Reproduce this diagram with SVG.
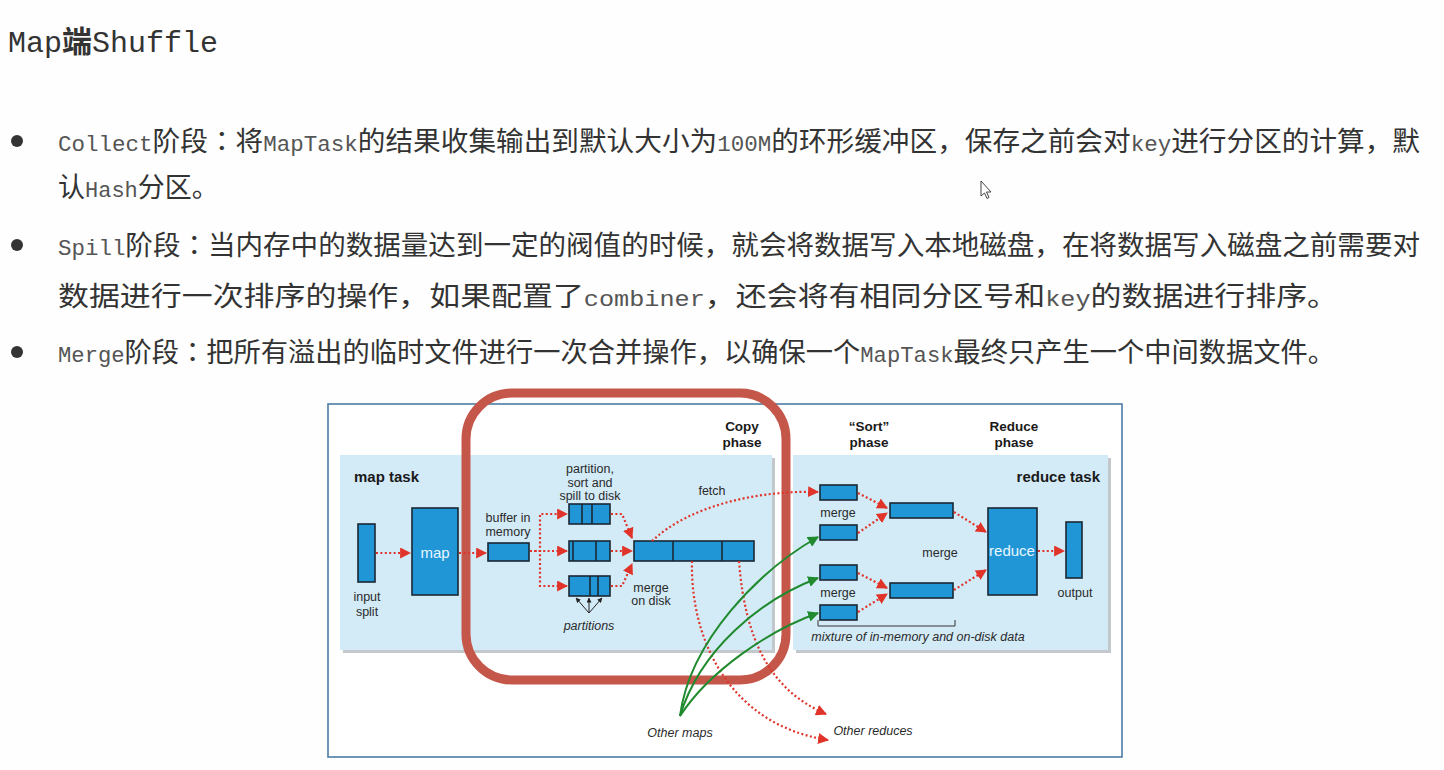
<svg xmlns="http://www.w3.org/2000/svg" width="1444" height="770" viewBox="0 0 1444 770">
<defs>
<style>
.cjk{font-family:"Noto Sans CJK SC","Noto Sans",sans-serif;fill:#333;}
.col{font-family:"Noto Sans CJK JP","Noto Sans CJK SC",sans-serif;fill:#333;}
.lat{font-family:"Liberation Mono",monospace;fill:#555;}
.lbl{font-family:"Liberation Sans",Arial,sans-serif;font-size:12.5px;fill:#2a2a2a;}
.it{font-style:italic;}
.bold{font-weight:bold;font-size:15px;fill:#1a1a1a;}
.hd{font-weight:bold;font-size:13.5px;fill:#1a1a1a;}
.box{fill:#2196d6;stroke:#1b2733;stroke-width:1.6;}
.div{stroke:#1b2733;stroke-width:1.6;}
.panel{fill:#d3eaf7;}
.shadow{fill:#9aa3a8;opacity:0.6;}
.rd{fill:none;stroke:#e0342a;stroke-width:2.2;stroke-dasharray:2 2.4;}
.gr{fill:none;stroke:#1f8a2e;stroke-width:2;}
.wt{font-family:"Liberation Sans",Arial,sans-serif;font-size:15px;fill:#e8f6ff;}
.thin{fill:none;stroke:#222;stroke-width:1;}
</style>
<marker id="ar" viewBox="0 0 10 10" refX="9" refY="5" markerWidth="11" markerHeight="11" markerUnits="userSpaceOnUse" orient="auto">
<path d="M0 0 L10 5 L0 10 Z" fill="#e0342a"/>
</marker>
<marker id="ag" viewBox="0 0 10 10" refX="9" refY="5" markerWidth="11" markerHeight="11" markerUnits="userSpaceOnUse" orient="auto">
<path d="M0 0 L10 5 L0 10 Z" fill="#1f8a2e"/>
</marker>
<marker id="ab" viewBox="0 0 10 10" refX="9" refY="5" markerWidth="5" markerHeight="5" markerUnits="userSpaceOnUse" orient="auto">
<path d="M0 0 L10 5 L0 10 Z" fill="#222"/>
</marker>
</defs>
<rect width="1444" height="770" fill="#fdfefd"/>

<g id="title">
<text x="8" y="52" font-size="30"><tspan class="lat" style="fill:#333">Map</tspan><tspan class="cjk" font-weight="bold">端</tspan><tspan class="lat" style="fill:#333">Shuffle</tspan></text>
</g>

<g id="bullets">
<circle cx="17" cy="141" r="6" fill="#333"/>
<circle cx="17" cy="245" r="6" fill="#333"/>
<circle cx="17" cy="352" r="6" fill="#333"/>
<text x="58" y="151" font-size="27" textLength="1362" lengthAdjust="spacingAndGlyphs"><tspan class="lat" font-size="22">Collect</tspan><tspan class="cjk">阶段</tspan><tspan class="col">：</tspan><tspan class="cjk">将</tspan><tspan class="lat" font-size="22">MapTask</tspan><tspan class="cjk">的结果收集输出到默认大小为</tspan><tspan class="lat" font-size="22">100M</tspan><tspan class="cjk">的环形缓冲区，保存之前会对</tspan><tspan class="lat" font-size="22">key</tspan><tspan class="cjk">进行分区的计算，默</tspan></text>
<text x="58" y="197" font-size="27"><tspan class="cjk">认</tspan><tspan class="lat" font-size="22">Hash</tspan><tspan class="cjk">分区。</tspan></text>
<text x="58" y="255" font-size="27" textLength="1362" lengthAdjust="spacingAndGlyphs"><tspan class="lat" font-size="22">Spill</tspan><tspan class="cjk">阶段</tspan><tspan class="col">：</tspan><tspan class="cjk">当内存中的数据量达到一定的阀值的时候，就会将数据写入本地磁盘，在将数据写入磁盘之前需要对</tspan></text>
<text x="58" y="306" font-size="27" textLength="1280" lengthAdjust="spacingAndGlyphs"><tspan class="cjk">数据进行一次排序的操作，如果配置了</tspan><tspan class="lat" font-size="22">combiner</tspan><tspan class="cjk">，还会将有相同分区号和</tspan><tspan class="lat" font-size="22">key</tspan><tspan class="cjk">的数据进行排序。</tspan></text>
<text x="58" y="362" font-size="27" textLength="1277" lengthAdjust="spacingAndGlyphs"><tspan class="lat" font-size="22">Merge</tspan><tspan class="cjk">阶段</tspan><tspan class="col">：</tspan><tspan class="cjk">把所有溢出的临时文件进行一次合并操作，以确保一个</tspan><tspan class="lat" font-size="22">MapTask</tspan><tspan class="cjk">最终只产生一个中间数据文件。</tspan></text>
<path d="M981 181 L981 196 L984.5 193 L987 198.5 L989 197.5 L986.5 192 L991 192 Z" fill="#fff" stroke="#444" stroke-width="1"/>
</g>

<g id="frame">
<rect x="328" y="404" width="794" height="353" fill="#ffffff" stroke="#4d7ca6" stroke-width="1.6"/>
</g>

<g id="map-panel">
<rect class="shadow" x="343" y="458" width="432" height="195"/>
<rect class="panel" x="340" y="455" width="432" height="195"/>
<text class="lbl bold" x="354" y="482">map task</text>
</g>

<g id="reduce-panel">
<rect class="shadow" x="796" y="458" width="315" height="195"/>
<rect class="panel" x="793" y="455" width="315" height="195"/>
<text class="lbl bold" x="1100" y="482" text-anchor="end">reduce task</text>
</g>

<g id="phases">
<text class="lbl hd" x="742" y="431" text-anchor="middle">Copy</text>
<text class="lbl hd" x="742" y="447" text-anchor="middle">phase</text>
<text class="lbl hd" x="869" y="431" text-anchor="middle">“Sort”</text>
<text class="lbl hd" x="869" y="447" text-anchor="middle">phase</text>
<text class="lbl hd" x="1014" y="431" text-anchor="middle">Reduce</text>
<text class="lbl hd" x="1014" y="447" text-anchor="middle">phase</text>
</g>

<g id="input-split">
<rect class="box" x="358" y="524" width="17" height="58"/>
<text class="lbl" x="367" y="601" text-anchor="middle" font-size="14">input</text>
<text class="lbl" x="367" y="616" text-anchor="middle" font-size="14">split</text>
</g>

<g id="map">
<rect class="box" x="412" y="508" width="46" height="87"/>
<text class="wt" x="435" y="558" text-anchor="middle">map</text>
</g>

<g id="buffer">
<rect class="box" x="488" y="543" width="41" height="18"/>
<text class="lbl" x="508" y="522" text-anchor="middle">buffer in</text>
<text class="lbl" x="508" y="536" text-anchor="middle">memory</text>
</g>

<g id="spills">
<text class="lbl" x="590" y="473" text-anchor="middle">partition,</text>
<text class="lbl" x="590" y="486.5" text-anchor="middle">sort and</text>
<text class="lbl" x="590" y="500" text-anchor="middle">spill to disk</text>
<rect class="box" x="569" y="504" width="41" height="20"/>
<line class="div" x1="582" y1="504" x2="582" y2="524"/>
<line class="div" x1="592" y1="504" x2="592" y2="524"/>
<rect class="box" x="569" y="541" width="41" height="20"/>
<line class="div" x1="573" y1="541" x2="573" y2="561"/>
<line class="div" x1="596" y1="541" x2="596" y2="561"/>
<rect class="box" x="569" y="576" width="41" height="20"/>
<line class="div" x1="590" y1="576" x2="590" y2="596"/>
<line class="div" x1="598" y1="576" x2="598" y2="596"/>
<text class="lbl it" x="589" y="630" text-anchor="middle">partitions</text>
<path class="thin" d="M589 613 L576 598" marker-end="url(#ab)"/>
<path class="thin" d="M589 613 L589 598" marker-end="url(#ab)"/>
<path class="thin" d="M589 613 L602 598" marker-end="url(#ab)"/>
</g>

<g id="merged-file">
<rect class="box" x="634" y="541" width="120" height="20"/>
<line class="div" x1="673" y1="541" x2="673" y2="561"/>
<line class="div" x1="722" y1="541" x2="722" y2="561"/>
<text class="lbl" x="651" y="592" text-anchor="middle">merge</text>
<text class="lbl" x="651" y="605" text-anchor="middle">on disk</text>
<text class="lbl" x="712" y="495" text-anchor="middle">fetch</text>
</g>

<g id="highlight">
<rect x="466" y="393" width="320" height="287" rx="46" fill="none" stroke="#c5574a" stroke-width="9"/>
</g>

<g id="reduce-side">
<rect class="box" x="820" y="485" width="37" height="15"/>
<rect class="box" x="820" y="525" width="37" height="15"/>
<rect class="box" x="820" y="565" width="37" height="15"/>
<rect class="box" x="820" y="605" width="37" height="15"/>
<text class="lbl" x="838" y="517" text-anchor="middle">merge</text>
<text class="lbl" x="838" y="597" text-anchor="middle">merge</text>
<rect class="box" x="890" y="503" width="63" height="15"/>
<rect class="box" x="890" y="583" width="63" height="15"/>
<text class="lbl" x="940" y="557" text-anchor="middle">merge</text>
<path d="M818 620 V626 H955 V620" fill="none" stroke="#333" stroke-width="1"/>
<text class="lbl it" x="918" y="641" text-anchor="middle">mixture of in-memory and on-disk data</text>
</g>

<g id="reduce">
<rect class="box" x="988" y="508" width="49" height="87"/>
<text class="wt" x="1012" y="556" text-anchor="middle">reduce</text>
</g>

<g id="output">
<rect class="box" x="1066" y="522" width="16" height="56"/>
<text class="lbl" x="1075" y="597" text-anchor="middle" font-size="14">output</text>
</g>

<g id="others">
<text class="lbl it" x="680" y="737" text-anchor="middle">Other maps</text>
<text class="lbl it" x="873" y="735" text-anchor="middle">Other reduces</text>
</g>

<g id="connectors">
<path class="rd" d="M376 553 L410 553" marker-end="url(#ar)"/>
<path class="rd" d="M459 553 L486 553" marker-end="url(#ar)"/>
<path class="rd" d="M530 551 L567 551" marker-end="url(#ar)"/>
<path class="rd" d="M530 551 H540 V514 H567" marker-end="url(#ar)"/>
<path class="rd" d="M530 551 H540 V586 H567" marker-end="url(#ar)"/>
<path class="rd" d="M611 514 H622 L632 538" marker-end="url(#ar)"/>
<path class="rd" d="M611 551 H632" marker-end="url(#ar)"/>
<path class="rd" d="M611 586 H622 L632 564" marker-end="url(#ar)"/>
<path class="rd" d="M652 541 C690 505 760 490 818 492" marker-end="url(#ar)"/>
<path class="rd" d="M692 561 C690 640 730 725 828 740" marker-end="url(#ar)"/>
<path class="rd" d="M739 561 C745 640 770 690 826 714" marker-end="url(#ar)"/>
<path class="gr" d="M680 716 C690 640 760 570 818 537" marker-end="url(#ag)"/>
<path class="gr" d="M680 716 C700 650 760 600 818 578" marker-end="url(#ag)"/>
<path class="gr" d="M680 716 C710 670 770 630 818 613" marker-end="url(#ag)"/>
<path class="rd" d="M858 493 L887 508" marker-end="url(#ar)"/>
<path class="rd" d="M858 533 L887 513" marker-end="url(#ar)"/>
<path class="rd" d="M858 573 L887 588" marker-end="url(#ar)"/>
<path class="rd" d="M858 612 L887 594" marker-end="url(#ar)"/>
<path class="rd" d="M954 512 L986 532" marker-end="url(#ar)"/>
<path class="rd" d="M954 590 L986 570" marker-end="url(#ar)"/>
<path class="rd" d="M1038 551 L1064 551" marker-end="url(#ar)"/>
</g>
</svg>
